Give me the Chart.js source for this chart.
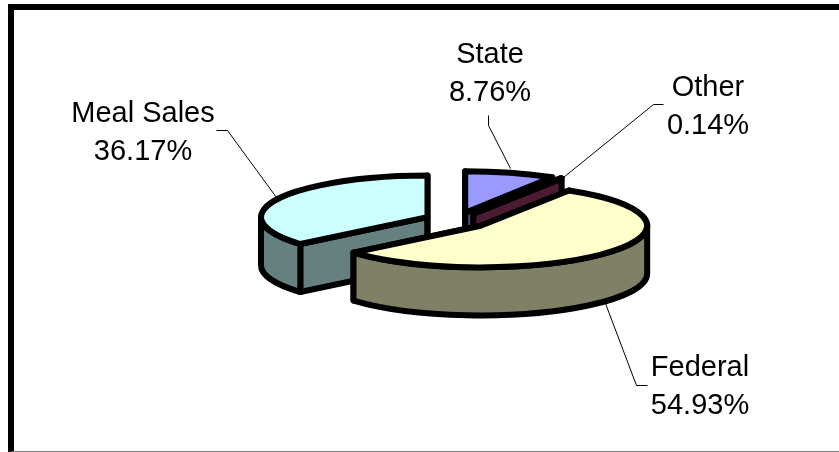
<!DOCTYPE html>
<html>
<head>
<meta charset="utf-8">
<title>Funding sources</title>
<style>
  html, body { margin: 0; padding: 0; background: #fff; overflow: hidden; }
  #wrap { position: relative; width: 839px; height: 452px; }
  #frame {
    position: absolute; left: 8px; top: 4px; right: 0; bottom: 0;
    border-top: 6px solid #000; border-left: 6px solid #000; border-bottom: 1px solid #808080;
  }
  canvas { position: absolute; left: 0; top: 0; }
</style>
<script src="https://cdn.jsdelivr.net/npm/chart.js@4/dist/chart.umd.min.js"></script>
</head>
<body>
<div id="wrap">
  <div id="frame"></div>
  <canvas id="pie" width="839" height="452"></canvas>
</div>
<script>
const categories = ['State', 'Other', 'Federal', 'Meal Sales'];
const shares = [8.76, 0.14, 54.93, 36.17];
const topColors = ['#9999FF', '#993366', '#FFFFCC', '#CCFFFF'];
const sideColors = ['#4D4D80', '#4D1A33', '#808066', '#668080'];

// back to front, so nearer slices cover the ones behind them
const drawOrder = [0, 3, 1, 2];

const TILT = 0.25;
const DEPTH = 48;
const EXPLODE = 32;
const OUTLINE = 6;

// where each category's text and leader line sit on the page
const labelLayout = {
  'State': { x: 490, y: 63, leader: [[488, 115], [488, 125], [510, 168]] },
  'Other': { x: 708, y: 96, leader: [[663, 104], [653, 104], [563, 177]] },
  'Federal': { x: 700, y: 376, leader: [[647, 385], [636, 385], [605, 303]] },
  'Meal Sales': { x: 143, y: 122, leader: [[216, 130], [227, 130], [276, 197]] }
};

function sliceGeometry(arc) {
  const mid = (arc.startAngle + arc.endAngle) / 2;
  const off = arc.options.offset;
  return {
    x: arc.x + Math.cos(mid) * off,
    y: arc.y + Math.sin(mid) * off * TILT,
    rx: arc.outerRadius,
    ry: arc.outerRadius * TILT,
    a1: arc.startAngle,
    a2: arc.endAngle
  };
}

function paint(ctx, fill) {
  ctx.fillStyle = fill;
  ctx.fill();
  ctx.stroke();
}

function drawCutWall(ctx, g, angle, fill) {
  const px = g.x + Math.cos(angle) * g.rx;
  const py = g.y + Math.sin(angle) * g.ry;
  ctx.beginPath();
  ctx.moveTo(g.x, g.y);
  ctx.lineTo(px, py);
  ctx.lineTo(px, py + DEPTH);
  ctx.lineTo(g.x, g.y + DEPTH);
  ctx.closePath();
  paint(ctx, fill);
}

function drawRimWall(ctx, g, fill) {
  // only the part of the rim that faces the viewer
  const from = Math.max(g.a1, 0);
  const to = Math.min(g.a2, Math.PI);
  if (to <= from) return;
  ctx.beginPath();
  ctx.ellipse(g.x, g.y, g.rx, g.ry, 0, from, to);
  ctx.ellipse(g.x, g.y + DEPTH, g.rx, g.ry, 0, to, from, true);
  ctx.closePath();
  paint(ctx, fill);
}

function drawTop(ctx, g, fill) {
  ctx.beginPath();
  ctx.moveTo(g.x, g.y);
  ctx.ellipse(g.x, g.y, g.rx, g.ry, 0, g.a1, g.a2);
  ctx.closePath();
  paint(ctx, fill);
}

const tiltedPie = {
  id: 'tiltedPie',
  beforeDatasetDraw(chart) {
    const ctx = chart.ctx;
    const arcs = chart.getDatasetMeta(0).data;
    ctx.save();
    ctx.strokeStyle = '#000';
    ctx.lineWidth = OUTLINE;
    ctx.lineJoin = 'round';
    drawOrder.forEach(i => {
      const g = sliceGeometry(arcs[i]);
      drawCutWall(ctx, g, g.a1, sideColors[i]);
      drawCutWall(ctx, g, g.a2, sideColors[i]);
      drawRimWall(ctx, g, sideColors[i]);
      drawTop(ctx, g, topColors[i]);
    });
    ctx.restore();
    return false;
  }
};

const sliceLabels = {
  id: 'sliceLabels',
  afterDraw(chart) {
    const ctx = chart.ctx;
    ctx.save();
    categories.forEach((name, i) => {
      const spot = labelLayout[name];
      ctx.strokeStyle = '#000';
      ctx.lineWidth = 1;
      ctx.beginPath();
      spot.leader.forEach(([x, y], n) => {
        if (n === 0) ctx.moveTo(x + 0.5, y + 0.5); else ctx.lineTo(x + 0.5, y + 0.5);
      });
      ctx.stroke();

      ctx.fillStyle = '#000';
      ctx.font = '29px "Liberation Sans", Arial, sans-serif';
      ctx.textAlign = 'center';
      ctx.textBaseline = 'alphabetic';
      ctx.fillText(name, spot.x, spot.y);
      ctx.fillText(shares[i].toFixed(2) + '%', spot.x, spot.y + 38);
    });
    ctx.restore();
  }
};

new Chart(document.getElementById('pie'), {
  type: 'pie',
  data: {
    labels: categories,
    datasets: [{
      data: shares,
      backgroundColor: topColors,
      borderWidth: 0,
      offset: EXPLODE
    }]
  },
  options: {
    responsive: false,
    animation: false,
    layout: { padding: { left: 273, right: 199, top: 38, bottom: 49 } },
    plugins: {
      legend: { display: false },
      tooltip: { enabled: false }
    }
  },
  plugins: [tiltedPie, sliceLabels]
});
</script>
</body>
</html>
